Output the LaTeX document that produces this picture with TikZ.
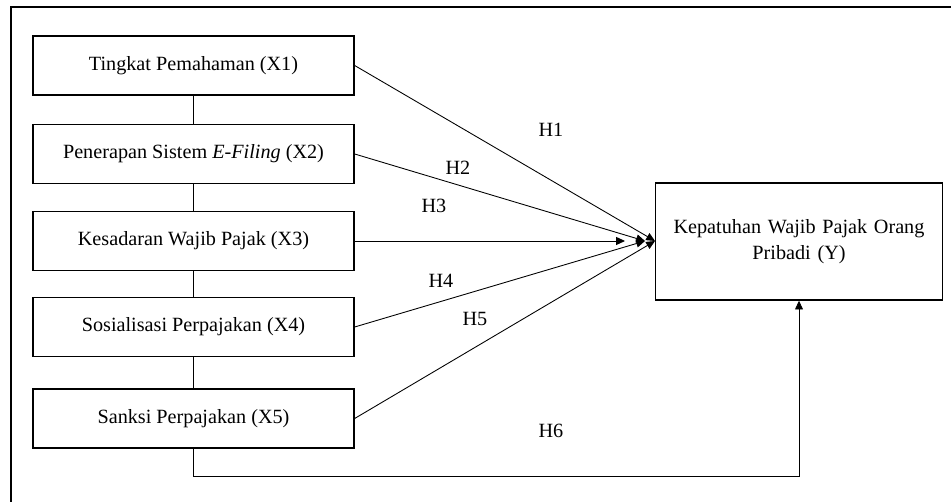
\documentclass[tikz,border=0pt]{standalone}
\usepackage{fontspec}
\setmainfont{Liberation Serif}
\usetikzlibrary{arrows.meta}

\begin{document}
\begin{tikzpicture}[x=0.02cm,y=-0.02cm,
    var/.style={draw,thick,minimum width=6.42cm,minimum height=1.18cm,inner sep=0pt,font=\fontsize{11.5}{14}\selectfont},
    hyp/.style={font=\fontsize{11.5}{14}\selectfont},
    arr/.style={-{Triangle[length=5pt,width=4.5pt]},line width=0.5pt}]

  \useasboundingbox (0,0) rectangle (951,502);
  \clip (0,0) rectangle (951,502);

% outer frame
  \draw[line width=1.2pt] (11,520) -- (11,7) -- (970,7);

% independent variables
  \node[var] (x1) at (193.5,65.5) {Tingkat Pemahaman (X1)};
  \node[var] (x2) at (193.5,154)  {Penerapan Sistem \textit{E-Filing} (X2)};
  \node[var] (x3) at (193.5,241)  {Kesadaran Wajib Pajak (X3)};
  \node[var] (x4) at (193.5,327)  {Sosialisasi Perpajakan (X4)};
  \node[var] (x5) at (193.5,418.5) {Sanksi Perpajakan (X5)};

% dependent variable
  \node[draw,thick,minimum width=5.64cm,minimum height=2.34cm,text width=5.5cm,align=center,
        font=\fontsize{11.5}{15}\selectfont] (y) at (799,241.5) {Kepatuhan Wajib Pajak Orang\\ Pribadi (Y)\\[4pt]};

% links between the boxes
  \foreach \a/\b in {x1/x2,x2/x3,x3/x4,x4/x5}
    \draw[line width=0.5pt] (\a.south) -- (\b.north);

% arrow ends
  \coordinate (t1) at (655,241);
  \coordinate (t2) at (645,241);
  \coordinate (t3) at (625,241);
  \coordinate (h6) at (193.5,476);

% hypotheses
  \draw[arr] (x1.east) -- (t1);
  \draw[arr] (x2.east) -- (t2);
  \draw[arr] (x3.east) -- (t3);
  \draw[arr] (x4.east) -- (t2);
  \draw[arr] (x5.east) -- (t1);
  \draw[arr] (x5.south) -- (h6) -| (y.south);

  \node[hyp] (l1) at (551,130) {H1};
  \node[hyp] (l2) at (458,168) {H2};
  \node[hyp] (l3) at (434,206) {H3};
  \node[hyp] (l4) at (441,281) {H4};
  \node[hyp] (l5) at (475,319) {H5};
  \node[hyp] (l6) at (551,431) {H6};

\end{tikzpicture}
\end{document}
